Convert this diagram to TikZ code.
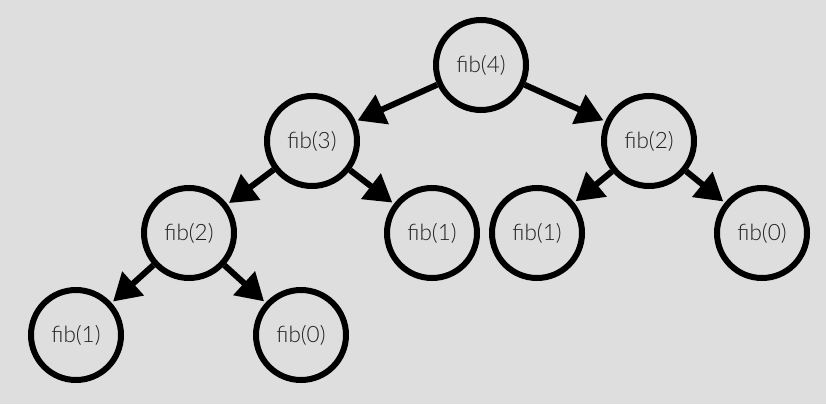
\documentclass[tikz,border=0pt]{standalone}
\usepackage{fontspec}
\setmainfont{Lato Light}
\usetikzlibrary{arrows.meta}
\definecolor{bg}{HTML}{DEDEDE}
\definecolor{ink}{HTML}{1E1E1E}
\begin{document}
\begin{tikzpicture}[x=1pt,y=-1pt,
  call/.style={circle,draw=black,line width=6pt,minimum size=90pt,inner sep=0pt,
    font=\fontsize{22.5}{26}\selectfont,text=ink},
  link/.style={line width=6pt,-{Triangle[length=27pt,width=31pt]},shorten >=2pt}]
  \fill[bg] (0,0) rectangle (826,404);
  \useasboundingbox (0,0) rectangle (826,404);
  % recursion tree of fib(4)
  \node[call] (f4)   at (481,65)  {fib(4)};
  \node[call] (f3)   at (312,141) {fib(3)};
  \node[call] (f2r)  at (649,141) {fib(2)};
  \node[call] (f2l)  at (189,233) {fib(2)};
  \node[call] (f1m)  at (432,233) {fib(1)};
  \node[call] (f1r)  at (537,233) {fib(1)};
  \node[call] (f0r)  at (762,233) {fib(0)};
  \node[call] (f1b)  at (76,335)  {fib(1)};
  \node[call] (f0b)  at (301,335) {fib(0)};
  \draw[link] (f4) -- (f3);
  \draw[link] (f4) -- (f2r);
  \draw[link] (f3) -- (f2l);
  \draw[link] (f3) -- (f1m);
  \draw[link] (f2r) -- (f1r);
  \draw[link] (f2r) -- (f0r);
  \draw[link] (f2l) -- (f1b);
  \draw[link] (f2l) -- (f0b);
\end{tikzpicture}
\end{document}
